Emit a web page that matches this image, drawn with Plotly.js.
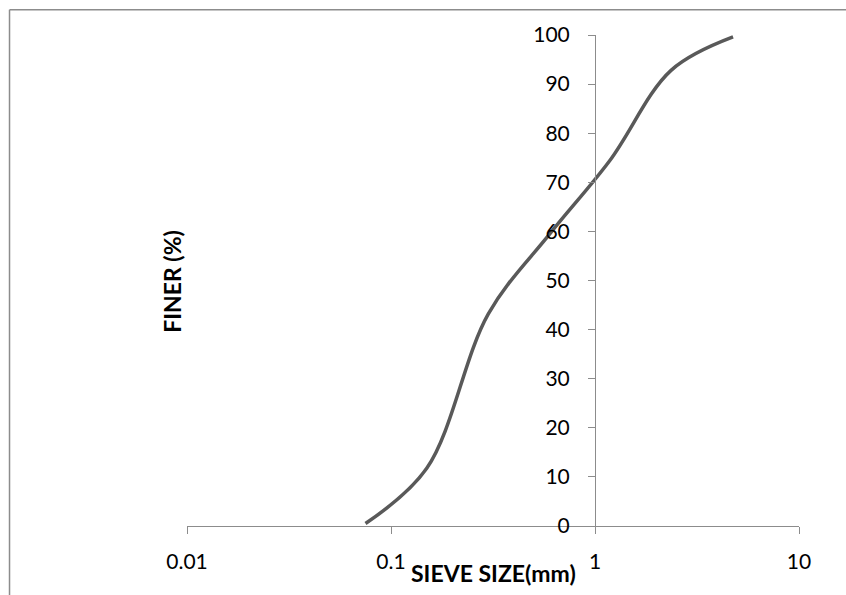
<!DOCTYPE html>
<html>
<head>
<meta charset="utf-8">
<script src="https://cdn.plot.ly/plotly-3.0.1.min.js"></script>
<style>
html,body{margin:0;padding:0;background:#fff;}
#chart{width:846px;height:595px;}
</style>
</head>
<body>
<div id="chart"></div>
<script>
// Sieve analysis data
var sieveSize = [0.075, 0.15, 0.3, 0.6, 1.18, 2.36, 4.75];
var finerPct = [0.5, 11.8, 43.2, 59.5, 74.4, 92.8, 99.6];
var xTickVals = [0.01, 0.1, 1, 10];
var xTickText = ['0.01', '0.1', '1', '10'];

var fontFam = 'Lato, "Open Sans", "Liberation Sans", sans-serif';

var trace = {
  x: sieveSize,
  y: finerPct,
  type: 'scatter',
  mode: 'lines',
  line: {color: '#595959', width: 3.5, shape: 'spline', smoothing: 1},
  hoverinfo: 'skip'
};

var layout = {
  width: 846, height: 595,
  margin: {l: 187, r: 47, t: 35, b: 69, pad: 0},
  paper_bgcolor: '#ffffff',
  plot_bgcolor: '#ffffff',
  showlegend: false,
  font: {family: fontFam, size: 21, color: '#000'},
  xaxis: {
    type: 'log',
    range: [-2, 1],
    tickvals: xTickVals,
    ticktext: xTickText,
    ticks: 'outside', ticklen: 7, tickwidth: 1, tickcolor: '#8c8c8c',
    showline: true, linecolor: '#8c8c8c', linewidth: 1,
    showgrid: false, zeroline: false,
    ticklabelstandoff: 10,
    tickfont: {family: fontFam, size: 21, color: '#000'}
  },
  yaxis: {
    range: [0, 100],
    dtick: 10, tick0: 0,
    anchor: 'free', position: 2/3,
    ticks: 'outside', ticklen: 7, tickwidth: 1, tickcolor: '#8c8c8c',
    showline: true, linecolor: '#8c8c8c', linewidth: 1,
    showgrid: false, zeroline: false,
    ticklabelstandoff: 14,
    tickfont: {family: fontFam, size: 21, color: '#000'}
  },
  annotations: [
    {text: '<b>SIEVE SIZE(mm)</b>', xref: 'paper', yref: 'paper', x: 0.5, y: -0.0957,
     xanchor: 'center', yanchor: 'middle', showarrow: false,
     font: {family: fontFam, size: 23, color: '#000'}},
    {text: '<b>FINER (%)</b>', xref: 'paper', yref: 'paper', x: -0.025, y: 0.4987,
     xanchor: 'center', yanchor: 'middle', showarrow: false, textangle: -90,
     font: {family: fontFam, size: 23, color: '#000'}}
  ],
  shapes: [
    {type: 'line', xref: 'paper', yref: 'paper', x0: -0.2900, x1: 1.2, y0: 1.0513, y1: 1.0513,
     line: {color: '#8c8c8c', width: 1.5}},
    {type: 'line', xref: 'paper', yref: 'paper', x0: -0.2900, x1: -0.2900, y0: 1.0513, y1: -0.3,
     line: {color: '#8c8c8c', width: 1.5}}
  ]
};

Plotly.newPlot('chart', [trace], layout, {displayModeBar: false, staticPlot: true});
</script>
</body>
</html>
